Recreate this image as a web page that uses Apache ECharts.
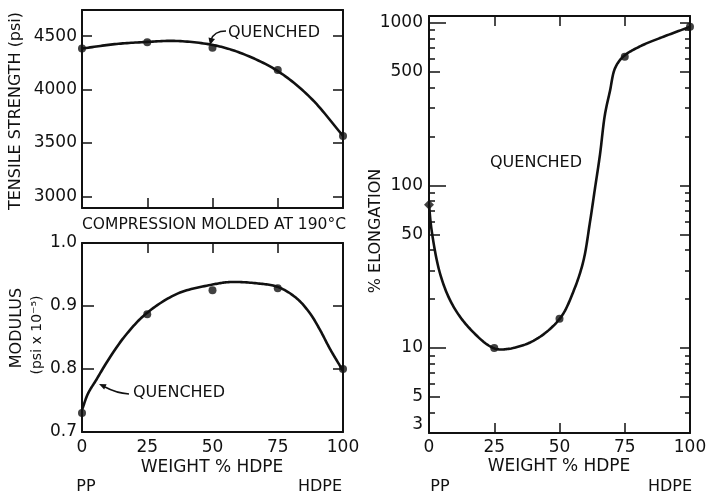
<!DOCTYPE html>
<html>
<head>
<meta charset="utf-8">
<script src="https://cdn.jsdelivr.net/npm/echarts@6/dist/echarts.min.js"></script>
<style>
  html, body { margin: 0; padding: 0; background: #fff; }
  #chart { width: 708px; height: 494px; }
</style>
</head>
<body>
<div id="chart"></div>
<script>
// measured points (weight % HDPE)
const weightX = [0, 25, 50, 75, 100];
const tensilePts = [4385, 4443, 4392, 4183, 3565];
const modulusPts = [0.730, 0.887, 0.925, 0.928, 0.800];
const elongPts = [76, 10, 15.1, 617, 944];

// drawn curves
const tensileCurveX = [0, 12.5, 25, 36, 50, 60.5, 74.6, 87.4, 100];
const tensileCurveY = [4384, 4425, 4446, 4455, 4418, 4345, 4179, 3927, 3566];
const modulusCurveX = [0, 2.3, 5.5, 10, 16.4, 24.6, 36.8, 50, 56.7, 66.9, 75.2, 82.3, 87.4, 91.2, 95, 100];
const modulusCurveY = [0.735, 0.761, 0.783, 0.814, 0.852, 0.888, 0.920, 0.934, 0.938, 0.936, 0.930, 0.912, 0.888, 0.862, 0.832, 0.797];
const elongCurveX = [0, 1, 4.2, 8.7, 15, 24.6, 30.4, 40.6, 50.2, 55.3, 59.1, 61.7, 63.6, 65.5, 67.4, 69.3, 71.3, 74.5, 80.8, 88.5, 100];
const elongCurveY = [76, 53, 28.8, 18.8, 13.5, 10, 9.87, 11.2, 15.2, 22.2, 34, 59.8, 96, 154, 272, 378, 526, 621, 715, 805, 944];

// ticks
const weightTicks = [0, 25, 50, 75, 100];
const innerTicks = [25, 50, 75];
const tensileTicks = [3000, 3500, 4000, 4500];
const modulusTicks = [0.7, 0.8, 0.9, 1.0];
const elongLabels = [3, 5, 10, 50, 100, 500, 1000];
const elongDecades = [10, 100, 1000];
const elongHalves = [5, 50, 500];
const elongMinor = [4, 6, 7, 8, 9, 20, 30, 40, 60, 70, 80, 90, 200, 300, 400, 600, 700, 800, 900];

const FONT = 'DejaVu Sans';
const INK = '#111';

function pairs(xs, ys) {
  return xs.map((x, i) => [x, ys[i]]);
}

// centripetal catmull-rom through pixel points
function spline(pts, steps) {
  const n = pts.length;
  const ext = [
    [2 * pts[0][0] - pts[1][0], 2 * pts[0][1] - pts[1][1]]
  ].concat(pts, [[2 * pts[n - 1][0] - pts[n - 2][0], 2 * pts[n - 1][1] - pts[n - 2][1]]]);
  const out = [pts[0]];
  const lerp = (a, b, ta, tb, t) => {
    const d = tb - ta || 1e-6;
    return [(tb - t) / d * a[0] + (t - ta) / d * b[0], (tb - t) / d * a[1] + (t - ta) / d * b[1]];
  };
  const knot = (a, b) => Math.pow(Math.hypot(b[0] - a[0], b[1] - a[1]), 0.5) || 1e-6;
  for (let i = 1; i < ext.length - 2; i++) {
    const p0 = ext[i - 1], p1 = ext[i], p2 = ext[i + 1], p3 = ext[i + 2];
    const t0 = 0, t1 = t0 + knot(p0, p1), t2 = t1 + knot(p1, p2), t3 = t2 + knot(p2, p3);
    for (let s = 1; s <= steps; s++) {
      const t = t1 + (t2 - t1) * s / steps;
      const a1 = lerp(p0, p1, t0, t1, t), a2 = lerp(p1, p2, t1, t2, t), a3 = lerp(p2, p3, t2, t3, t);
      const b1 = lerp(a1, a2, t0, t2, t), b2 = lerp(a2, a3, t1, t3, t);
      out.push(lerp(b1, b2, t1, t2, t));
    }
  }
  return out;
}

function xAx(grid, pos, opts) {
  return Object.assign({
    gridIndex: grid, type: 'value', position: pos, min: 0, max: 100,
    axisLine: { show: true, onZero: false, lineStyle: { color: INK, width: 2 } },
    axisTick: { show: false },
    axisLabel: { show: false },
    splitLine: { show: false }
  }, opts);
}

function ticks(vals, len) {
  return { show: true, inside: true, length: len, customValues: vals, lineStyle: { color: INK, width: 1.5 } };
}

function yAx(grid, pos, opts) {
  return Object.assign({
    gridIndex: grid, type: 'value', position: pos,
    axisLine: { show: true, onZero: false, lineStyle: { color: INK, width: 2 } },
    axisTick: { show: false },
    axisLabel: { show: false },
    splitLine: { show: false }
  }, opts);
}

const labelStyle = { show: true, color: INK, fontFamily: FONT, fontSize: 17, formatter: v => String(v) };

function curve(xi, yi, xs, ys) {
  return {
    type: 'custom', coordinateSystem: 'cartesian2d', xAxisIndex: xi, yAxisIndex: yi,
    data: pairs(xs, ys), encode: { x: 0, y: 1 }, silent: true,
    renderItem: function (params, api) {
      if (params.dataIndex !== 0) return;
      const px = xs.map((x, i) => api.coord([x, ys[i]]));
      return {
        type: 'polyline',
        shape: { points: spline(px, 16) },
        style: { stroke: INK, lineWidth: 2.6, fill: null, lineJoin: 'round' }
      };
    }
  };
}

function dots(xi, yi, data) {
  return { type: 'scatter', xAxisIndex: xi, yAxisIndex: yi, symbolSize: 8, itemStyle: { color: INK }, data: data };
}

const option = {
  animation: false,
  backgroundColor: '#fff',
  grid: [
    { left: 82, top: 10, width: 261, height: 198, outerBoundsMode: 'none' },
    { left: 82, top: 243, width: 261, height: 189, outerBoundsMode: 'none' },
    { left: 429, top: 16, width: 261, height: 417, outerBoundsMode: 'none' }
  ],
  xAxis: [
    xAx(0, 'bottom', { axisTick: ticks(innerTicks, 10) }),
    xAx(0, 'top', {}),
    xAx(1, 'bottom', {
      interval: 25,
      axisLabel: Object.assign({}, labelStyle, { margin: 7, customValues: weightTicks })
    }),
    xAx(1, 'top', { axisTick: ticks(innerTicks, 10) }),
    xAx(2, 'bottom', {
      interval: 25,
      axisTick: ticks(innerTicks, 10),
      axisLabel: Object.assign({}, labelStyle, { margin: 6, customValues: weightTicks })
    }),
    xAx(2, 'top', { axisTick: ticks(innerTicks, 10) })
  ],
  yAxis: [
    yAx(0, 'left', {
      min: 2890, max: 4745,
      axisTick: ticks(tensileTicks, 10),
      axisLabel: Object.assign({}, labelStyle, { margin: 5, customValues: tensileTicks })
    }),
    yAx(0, 'right', { min: 2890, max: 4745, axisTick: ticks(tensileTicks, 10) }),
    yAx(1, 'left', {
      min: 0.7, max: 1.0,
      axisTick: ticks(modulusTicks, 12),
      axisLabel: Object.assign({}, labelStyle, {
        margin: 5, customValues: modulusTicks,
        formatter: v => Number(v).toFixed(1)
      })
    }),
    yAx(1, 'right', { min: 0.7, max: 1.0, axisTick: ticks(modulusTicks, 10) }),
    yAx(2, 'left', {
      type: 'log', logBase: 10, min: 3, max: 1100,
      axisTick: ticks(elongDecades, 17),
      axisLabel: Object.assign({}, labelStyle, {
        margin: 6, customValues: elongLabels, verticalAlignMinLabel: 'bottom'
      })
    }),
    yAx(2, 'left', { type: 'log', logBase: 10, min: 3, max: 1100, axisLine: { show: false }, axisTick: ticks(elongHalves, 11) }),
    yAx(2, 'left', { type: 'log', logBase: 10, min: 3, max: 1100, axisLine: { show: false }, axisTick: ticks(elongMinor, 6) }),
    yAx(2, 'right', { type: 'log', logBase: 10, min: 3, max: 1100, axisTick: ticks(elongDecades.concat(elongHalves), 10) }),
    yAx(2, 'right', { type: 'log', logBase: 10, min: 3, max: 1100, axisLine: { show: false }, axisTick: ticks(elongMinor, 5) })
  ],
  series: [
    curve(0, 0, tensileCurveX, tensileCurveY),
    dots(0, 0, pairs(weightX, tensilePts)),
    curve(2, 2, modulusCurveX, modulusCurveY),
    dots(2, 2, pairs(weightX, modulusPts)),
    curve(4, 4, elongCurveX, elongCurveY),
    dots(4, 4, pairs(weightX, elongPts).map((p, i) => i === 0 ? { value: p, symbol: 'diamond', symbolSize: 10 } : p))
  ],
  graphic: [
    // axis titles
    { type: 'text', x: 16, y: 111, rotation: Math.PI / 2,
      style: { text: 'TENSILE STRENGTH (psi)', font: '16px ' + FONT, fill: INK, align: 'center', verticalAlign: 'middle' } },
    { type: 'text', x: 17, y: 328, rotation: Math.PI / 2,
      style: { text: 'MODULUS', font: '16px ' + FONT, fill: INK, align: 'center', verticalAlign: 'middle' } },
    { type: 'text', x: 37, y: 335, rotation: Math.PI / 2,
      style: { text: '(psi x 10⁻⁵)', font: '14px ' + FONT, fill: INK, align: 'center', verticalAlign: 'middle' } },
    { type: 'text', x: 376, y: 231, rotation: Math.PI / 2,
      style: { text: '% ELONGATION', font: '16px ' + FONT, fill: INK, align: 'center', verticalAlign: 'middle' } },
    // x titles
    { type: 'text', x: 212, y: 468,
      style: { text: 'WEIGHT % HDPE', font: '17px ' + FONT, fill: INK, align: 'center', verticalAlign: 'middle' } },
    { type: 'text', x: 559, y: 467,
      style: { text: 'WEIGHT % HDPE', font: '17px ' + FONT, fill: INK, align: 'center', verticalAlign: 'middle' } },
    { type: 'text', x: 86, y: 487,
      style: { text: 'PP', font: '16px ' + FONT, fill: INK, align: 'center', verticalAlign: 'middle' } },
    { type: 'text', x: 320, y: 487,
      style: { text: 'HDPE', font: '16px ' + FONT, fill: INK, align: 'center', verticalAlign: 'middle' } },
    { type: 'text', x: 440, y: 487,
      style: { text: 'PP', font: '16px ' + FONT, fill: INK, align: 'center', verticalAlign: 'middle' } },
    { type: 'text', x: 670, y: 487,
      style: { text: 'HDPE', font: '16px ' + FONT, fill: INK, align: 'center', verticalAlign: 'middle' } },
    { type: 'text', x: 82, y: 225,
      style: { text: 'COMPRESSION MOLDED AT 190°C', font: '15.5px ' + FONT, fill: INK, align: 'left', verticalAlign: 'middle' } },
    // QUENCHED notes
    { type: 'text', x: 228, y: 33,
      style: { text: 'QUENCHED', font: '16px ' + FONT, fill: INK, align: 'left', verticalAlign: 'middle' } },
    { type: 'text', x: 133, y: 393,
      style: { text: 'QUENCHED', font: '16px ' + FONT, fill: INK, align: 'left', verticalAlign: 'middle' } },
    { type: 'text', x: 490, y: 163,
      style: { text: 'QUENCHED', font: '16px ' + FONT, fill: INK, align: 'left', verticalAlign: 'middle' } },
    // arrows
    { type: 'bezierCurve', shape: { x1: 226, y1: 31, cpx1: 214, cpy1: 31, x2: 211, y2: 40 },
      style: { stroke: INK, lineWidth: 1.5, fill: null } },
    { type: 'polygon', shape: { points: [[210, 45], [215, 39], [208.5, 37.5]] }, style: { fill: INK } },
    { type: 'bezierCurve', shape: { x1: 129, y1: 394, cpx1: 116, cpy1: 393, x2: 105, y2: 387 },
      style: { stroke: INK, lineWidth: 1.5, fill: null } },
    { type: 'polygon', shape: { points: [[99, 384], [106.6, 384.2], [104.2, 389.6]] }, style: { fill: INK } }
  ]
};

const myChart = echarts.init(document.getElementById('chart'));
myChart.setOption(option);
window.addEventListener('resize', function () {
  myChart.resize();
});
</script>
</body>
</html>
